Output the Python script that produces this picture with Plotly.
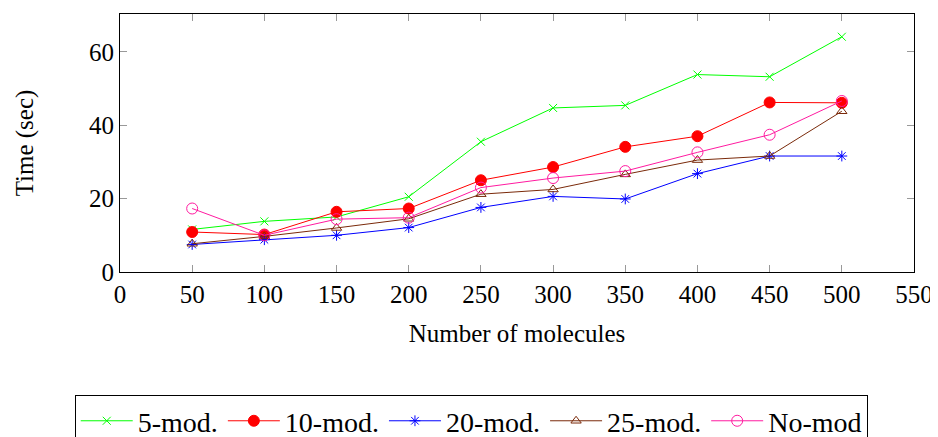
import plotly.graph_objects as go

molecules = [50, 100, 150, 200, 250, 300, 350, 400, 450, 500]
mod5 = [11.6, 13.8, 15.0, 20.5, 35.5, 44.7, 45.4, 53.8, 53.2, 64.1]
mod10 = [10.9, 10.2, 16.4, 17.3, 25.0, 28.6, 34.1, 37.0, 46.2, 46.1]
mod20 = [7.5, 8.8, 10.0, 12.1, 17.6, 20.6, 19.9, 26.8, 31.6, 31.6]
mod25 = [7.7, 9.7, 12.0, 14.5, 21.2, 22.5, 26.6, 30.5, 31.6, 43.8]
nomod = [17.3, 10.0, 14.4, 14.8, 23.0, 25.6, 27.5, 32.6, 37.4, 46.6]

x_ticks = [0, 50, 100, 150, 200, 250, 300, 350, 400, 450, 500, 550]
y_ticks = [0, 20, 40, 60]

FONT = "Liberation Serif"

series = [
    ("5-mod.", mod5, "#00ff00", "x-thin-open", 8),
    ("10-mod.", mod10, "#ff0000", "circle", 11),
    ("20-mod.", mod20, "#0000ff", "asterisk-open", 9),
    ("25-mod.", mod25, "#7a2a0a", "triangle-up-open", 9),
    ("No-mod", nomod, "#ff1aa0", "circle-open", 11),
]

fig = go.Figure()
for name, vals, color, sym, size in series:
    fig.add_trace(go.Scatter(
        x=molecules, y=vals, name=name, mode="lines+markers",
        line=dict(color=color, width=1),
        marker=dict(symbol=sym, size=size, color=color,
                    line=dict(color=color, width=1)),
    ))

axis_common = dict(
    showline=True, linecolor="black", linewidth=1.2, mirror="ticks",
    ticks="inside", ticklen=7, tickcolor="#999999", tickwidth=1,
    showgrid=False, zeroline=False, automargin=False,
    tickfont=dict(family=FONT, size=25, color="black"),
)

fig.update_layout(
    width=938, height=437,
    margin=dict(l=112, r=32, t=6, b=173, autoexpand=False),
    paper_bgcolor="white", plot_bgcolor="white",
    font=dict(family=FONT, size=25, color="black"),
    xaxis=dict(range=[0, 550], tickvals=x_ticks,
               title=dict(text="Number of molecules", font=dict(family=FONT, size=25), standoff=17),
               **axis_common),
    yaxis=dict(range=[0, 70.3], tickvals=y_ticks,
               title=dict(text="Time (sec)", font=dict(family=FONT, size=25), standoff=48),
               **axis_common),
    legend=dict(orientation="h", x=-0.057, xanchor="left", y=-0.477, yanchor="top",
                bordercolor="black", borderwidth=1, bgcolor="white",
                font=dict(family=FONT, size=28), itemwidth=52,
                tracegroupgap=0, traceorder="normal"),
    showlegend=True,
)

fig.write_html("out.html")
